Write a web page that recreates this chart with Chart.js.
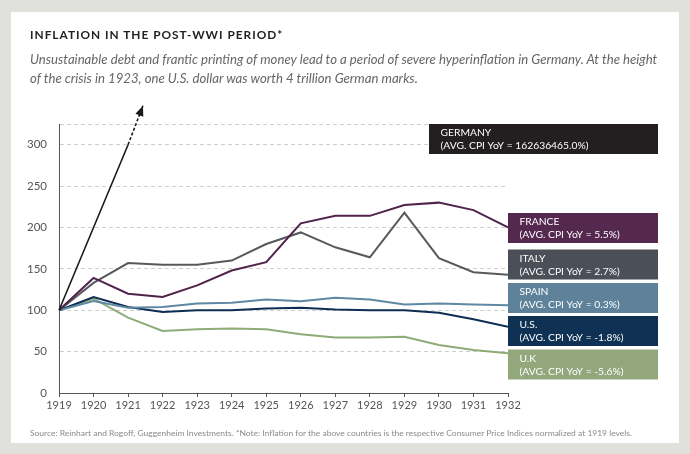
<!DOCTYPE html>
<html>
<head>
<meta charset="utf-8">
<script src="https://cdn.jsdelivr.net/npm/chart.js@4.4.1/dist/chart.umd.min.js"></script>
<style>
  html, body { margin:0; padding:0; }
  body { width:690px; height:454px; background:#e0e0dc; position:relative; overflow:hidden; font-family:Lato, "Open Sans", sans-serif; }
  #panel { position:absolute; left:11px; top:12px; width:668px; height:431px; background:#ffffff; }
  #chartWrap { position:absolute; left:0; top:0; width:690px; height:454px; }
  #title { position:absolute; left:30px; top:27px; font-size:11px; font-weight:700; letter-spacing:1px; color:#222; white-space:nowrap; }
  #subtitle { position:absolute; left:30px; top:49.5px; font-size:11.65px; font-style:italic; line-height:19.5px; color:#666; white-space:nowrap; }
  #footer { position:absolute; left:30px; top:428px; font-size:8.3px; color:#8a8a8a; white-space:nowrap; }
  .ln { display:inline-block; }
</style>
</head>
<body>
<div id="panel"></div>
<div id="chartWrap"><canvas id="c" width="690" height="454"></canvas></div>
<div id="title"><span class="ln" id="titleLn">INFLATION IN THE POST-WWI PERIOD*</span></div>
<div id="subtitle"><span class="ln" id="subLn">Unsustainable debt and frantic printing of money lead to a period of severe hyperinflation in Germany. At the height</span><br>of the crisis in 1923, one U.S. dollar was worth 4 trillion German marks.</div>
<div id="footer"><span class="ln" id="footLn">Source: Reinhart and Rogoff, Guggenheim Investments. *Note: Inflation for the above countries is the respective Consumer Price Indices normalized at 1919 levels.</span></div>
<script>
// ---- data ----
const years = [1919,1920,1921,1922,1923,1924,1925,1926,1927,1928,1929,1930,1931,1932];
const france = [100,139,120,116,130,148,158,205,214,214,227,230,221,200];
const italy  = [100,133,157,155,155,160,180,194,176,164,218,163,146,143];
const spain  = [100,111,103,104,108,109,113,111,115,113,107,108,107,106];
const us     = [100,116,104,98,100,100,102,103,101,100,100,97,89,80];
const uk     = [100,114,91,75,77,78,77,71,67,67,68,58,52,48];
const germanyYears  = [1919,1920,1921];
const germany       = [100,200,300];
const germanyArrowYears  = [1921,1921.43];
const germanyArrowValues = [300,347];
const yTicks = [0,50,100,150,200,250,300];
const yMax = 325;
const labelNames = ["GERMANY","FRANCE","ITALY","SPAIN","U.S.","U.K"];
const labelAvg   = ["162636465.0%","5.5%","2.7%","0.3%","-1.8%","-5.6%"];

// fit text widths to the reference
function fit(boxId, lineId, target){
  const box = document.getElementById(boxId), ln = document.getElementById(lineId);
  const w = ln.getBoundingClientRect().width;
  const fs = parseFloat(getComputedStyle(box).fontSize);
  if (w > 0) box.style.fontSize = (fs * target / w).toFixed(2) + 'px';
}
fit('title','titleLn',256);
fit('subtitle','subLn',627);
fit('footer','footLn',602);

const colors = {
  germany:'#1c1a1b', france:'#50234b', italy:'#58595c', spain:'#5e88a3', us:'#0d2e52', uk:'#8fab77'
};
const boxColors = ['#231f20','#54284f','#4b4f57','#5e8299','#0f3154','#93a77c'];

function pts(xs, ys){ return xs.map((x,i)=>({x:x, y:ys[i]})); }

const lineDs = (data, color, extra) => Object.assign({
  data: data, borderColor: color, borderWidth: 2, pointRadius: 0, tension: 0, fill:false
}, extra||{});

const boxPlugin = {
  id:'boxes',
  afterDatasetsDraw(chart){
    const ctx = chart.ctx, ca = chart.chartArea;
    const meta = chart.getDatasetMeta(1);
    const p0 = meta.data[0], p1 = meta.data[meta.data.length-1];
    const ang = Math.atan2(p1.y - p0.y, p1.x - p0.x);
    const L = 10, W = 4.2;
    ctx.save();
    ctx.fillStyle = colors.germany;
    ctx.beginPath();
    ctx.moveTo(p1.x, p1.y);
    ctx.lineTo(p1.x - L*Math.cos(ang) + W*Math.sin(ang), p1.y - L*Math.sin(ang) - W*Math.cos(ang));
    ctx.lineTo(p1.x - L*Math.cos(ang) - W*Math.sin(ang), p1.y - L*Math.sin(ang) + W*Math.cos(ang));
    ctx.closePath();
    ctx.fill();

    const tops = [ca.top, ca.top+89, ca.top+125.5, ca.top+159, ca.top+192, ca.top+225.5];
    const h = 30;
    for (let i=0;i<labelNames.length;i++){
      const x0 = i===0 ? ca.right - 79 : ca.right;
      const x1 = ca.right + 150;
      ctx.fillStyle = boxColors[i];
      ctx.fillRect(x0, tops[i], x1-x0, h);
      ctx.fillStyle = '#ffffff';
      ctx.font = '10.3px Lato';
      ctx.textBaseline = 'alphabetic';
      ctx.textAlign = 'left';
      ctx.fillText(labelNames[i], x0 + 11.5, tops[i] + 12);
      ctx.fillText('(AVG. CPI YoY = ' + labelAvg[i] + ')', x0 + 11.5, tops[i] + 25.3);
    }
    ctx.restore();
  }
};

new Chart(document.getElementById('c'), {
  type:'line',
  data:{
    datasets:[
      lineDs(pts(germanyYears, germany), colors.germany, {borderWidth:1.6, clip:false}),
      lineDs(pts(germanyArrowYears, germanyArrowValues), colors.germany, {borderWidth:1.6, borderDash:[3,2], clip:false}),
      lineDs(pts(years, france), colors.france),
      lineDs(pts(years, italy), colors.italy),
      lineDs(pts(years, spain), colors.spain),
      lineDs(pts(years, us), colors.us),
      lineDs(pts(years, uk), colors.uk)
    ]
  },
  options:{
    responsive:false,
    animation:false,
    devicePixelRatio:1,
    layout:{ padding:{ left:0, right:182, top:124, bottom:21 } },
    plugins:{ legend:{display:false}, tooltip:{enabled:false}, title:{display:false} },
    scales:{
      x:{
        type:'linear', min:1919, max:1932,
        afterBuildTicks: s => { s.ticks = years.map(v=>({value:v})); },
        afterFit: s => { s.height = 40; },
        ticks:{ callback: v => String(v), color:'#555', font:{family:'Lato', size:11}, padding:2, maxRotation:0, autoSkip:false },
        grid:{ display:true, drawOnChartArea:false, drawTicks:true, tickLength:4, color:'#555' },
        border:{ display:true, color:'#555', width:1 }
      },
      y:{
        min:0, max:yMax,
        afterBuildTicks: s => { s.ticks = yTicks.concat([yMax]).map(v=>({value:v})); },
        afterFit: s => { s.width = 59; },
        ticks:{ callback: v => (v === yMax ? '' : String(v)), color:'#555', font:{family:'Lato', size:11.5}, padding:12 },
        grid:{ drawTicks:false, color: c => (c.tick && c.tick.value === 0) ? 'rgba(0,0,0,0)' : '#cfcfcf', lineWidth:1 },
        border:{ display:true, color:'#555', width:1, dash:[4,3] }
      }
    }
  },
  plugins:[boxPlugin]
});
</script>
</body>
</html>
